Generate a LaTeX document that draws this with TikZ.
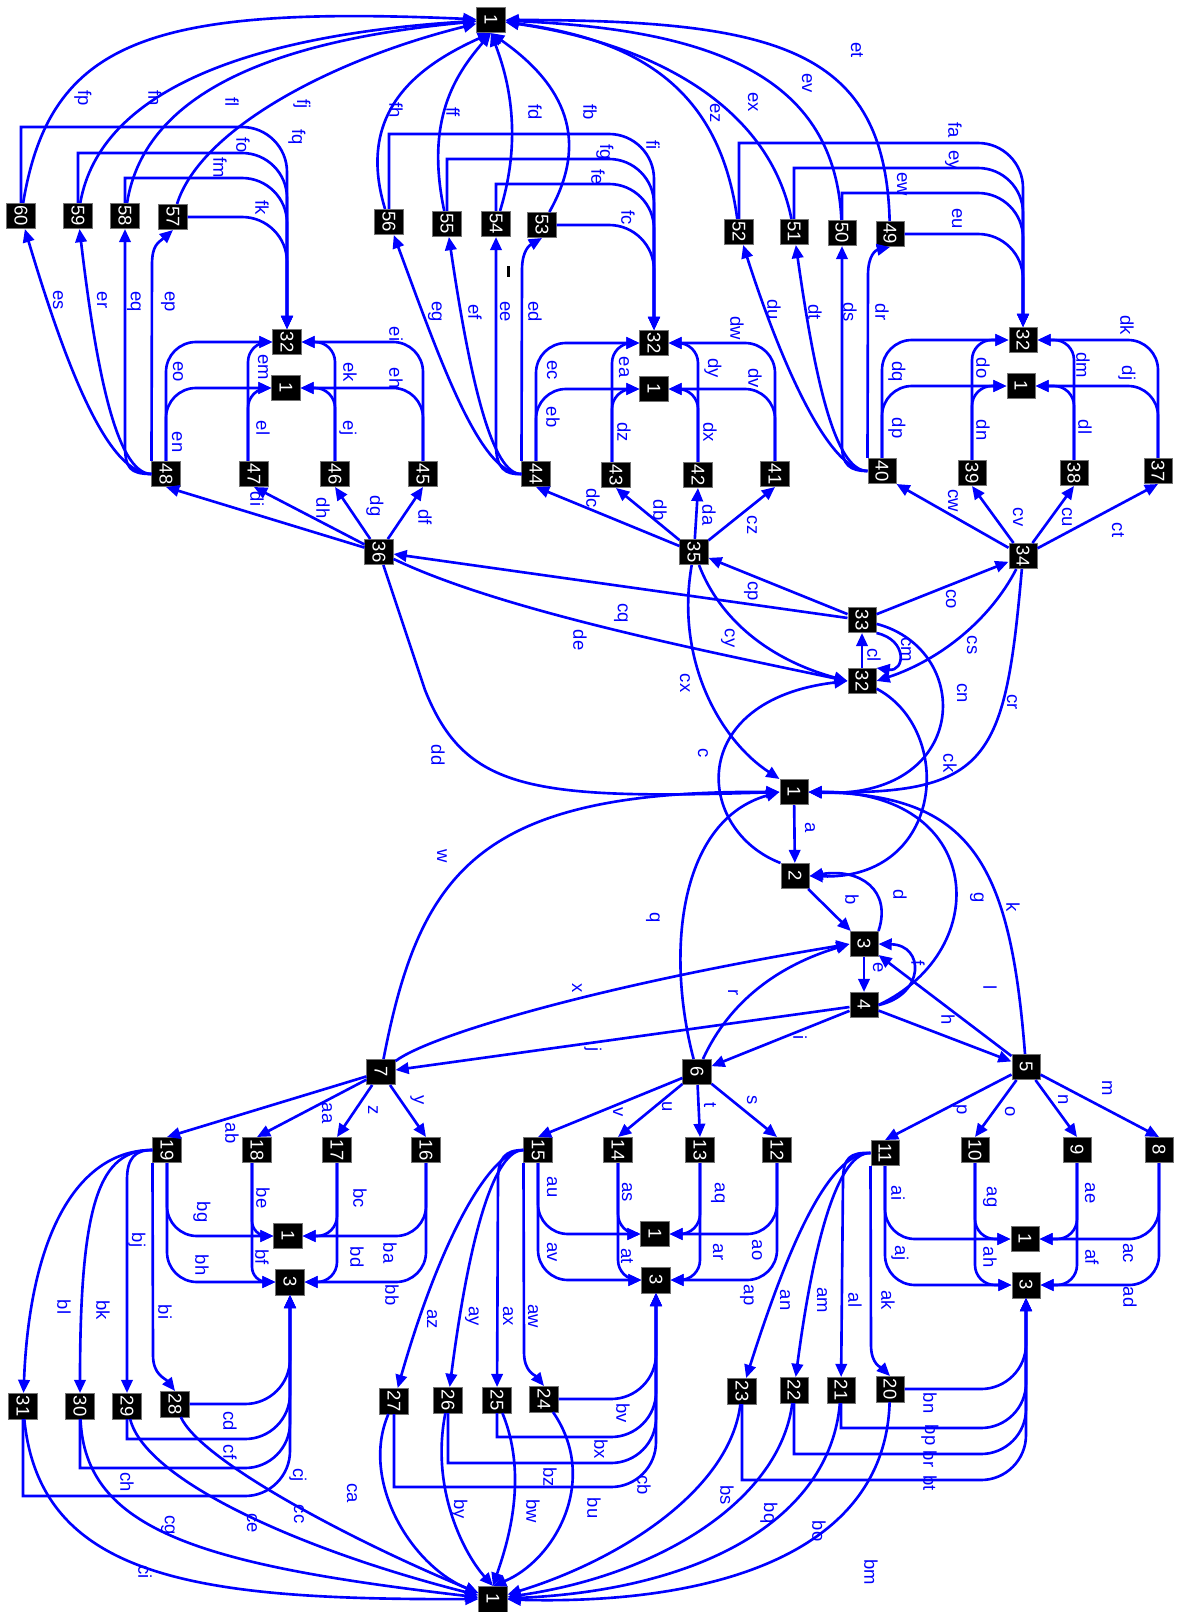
\documentclass[tikz,border=0pt]{standalone}
\usepackage{fontspec}
\setmainfont{Liberation Sans}
\usepackage{graphicx}
\usetikzlibrary{arrows.meta}
\newcommand{\vlab}[1]{\rotatebox{-90}{#1}}

\begin{document}
\begin{tikzpicture}[x=0.02cm, y=-0.02cm,
    vert/.style={fill=black, draw=black!55, line width=0.3pt, text=white, minimum width=0.57cm, minimum height=0.51cm, inner sep=0pt, font=\fontsize{10.5}{10.5}\selectfont},
    link/.style={draw=blue, line width=1.5pt, -{Triangle[length=7.5pt,width=6.5pt]}},
    lbl/.style={text=blue, rotate=-90, inner sep=0pt, font=\fontsize{10.5}{11}\selectfont},
    rca/.style={rounded corners=0.6cm},
    rcb/.style={rounded corners=0.4cm}]
  \fill[white] (0,0) rectangle (1189,1612);
  \useasboundingbox (0,0) rectangle (1189,1612);

  % vertices
  \node[vert] (t1) at (491,20) {\vlab{1}};
  \node[vert] (n60) at (21,216) {\vlab{60}};
  \node[vert] (n59) at (78,216) {\vlab{59}};
  \node[vert] (n58) at (125,216) {\vlab{58}};
  \node[vert] (n57) at (173,217) {\vlab{57}};
  \node[vert] (n56) at (389,222) {\vlab{56}};
  \node[vert] (n55) at (447,224) {\vlab{55}};
  \node[vert] (n54) at (496,224) {\vlab{54}};
  \node[vert] (n53) at (542,225) {\vlab{53}};
  \node[vert] (n52) at (739,232) {\vlab{52}};
  \node[vert] (n51) at (794,232) {\vlab{51}};
  \node[vert] (n50) at (842,233) {\vlab{50}};
  \node[vert] (n49) at (890,234) {\vlab{49}};
  \node[vert] (tl32) at (287,342) {\vlab{32}};
  \node[vert] (tl1) at (286,388) {\vlab{1}};
  \node[vert] (tm32) at (654,343) {\vlab{32}};
  \node[vert] (tm1) at (654,389) {\vlab{1}};
  \node[vert] (tr32) at (1023,340) {\vlab{32}};
  \node[vert] (tr1) at (1021,386) {\vlab{1}};
  \node[vert] (n48) at (166,474) {\vlab{48}};
  \node[vert] (n47) at (254,474) {\vlab{47}};
  \node[vert] (n46) at (335,474) {\vlab{46}};
  \node[vert] (n45) at (423,474) {\vlab{45}};
  \node[vert] (n44) at (536,474) {\vlab{44}};
  \node[vert] (n43) at (616,475) {\vlab{43}};
  \node[vert] (n42) at (698,475) {\vlab{42}};
  \node[vert] (n41) at (775,474) {\vlab{41}};
  \node[vert] (n40) at (882,471) {\vlab{40}};
  \node[vert] (n39) at (972,473) {\vlab{39}};
  \node[vert] (n38) at (1074,473) {\vlab{38}};
  \node[vert] (n37) at (1158,471) {\vlab{37}};
  \node[vert] (n36) at (379,552) {\vlab{36}};
  \node[vert] (n35) at (694,552) {\vlab{35}};
  \node[vert] (n34) at (1023,556) {\vlab{34}};
  \node[vert] (n33) at (862,620) {\vlab{33}};
  \node[vert] (c32) at (862,681) {\vlab{32}};
  \node[vert] (c1) at (794,792) {\vlab{1}};
  \node[vert] (n2) at (795,876) {\vlab{2}};
  \node[vert] (n3) at (864,944) {\vlab{3}};
  \node[vert] (n4) at (864,1005) {\vlab{4}};
  \node[vert] (n5) at (1026,1067) {\vlab{5}};
  \node[vert] (n6) at (697,1072) {\vlab{6}};
  \node[vert] (n7) at (381,1072) {\vlab{7}};
  \node[vert] (n8) at (1159,1150) {\vlab{8}};
  \node[vert] (n9) at (1077,1150) {\vlab{9}};
  \node[vert] (n10) at (975,1150) {\vlab{10}};
  \node[vert] (n11) at (885,1153) {\vlab{11}};
  \node[vert] (n12) at (777,1150) {\vlab{12}};
  \node[vert] (n13) at (700,1150) {\vlab{13}};
  \node[vert] (n14) at (618,1150) {\vlab{14}};
  \node[vert] (n15) at (538,1150) {\vlab{15}};
  \node[vert] (n16) at (426,1150) {\vlab{16}};
  \node[vert] (n17) at (337,1150) {\vlab{17}};
  \node[vert] (n18) at (257,1150) {\vlab{18}};
  \node[vert] (n19) at (167,1150) {\vlab{19}};
  \node[vert] (bl1) at (288,1236) {\vlab{1}};
  \node[vert] (bl3) at (290,1282) {\vlab{3}};
  \node[vert] (bm1) at (655,1234) {\vlab{1}};
  \node[vert] (bm3) at (656,1280) {\vlab{3}};
  \node[vert] (br1) at (1025,1239) {\vlab{1}};
  \node[vert] (br3) at (1026,1285) {\vlab{3}};
  \node[vert] (n20) at (890,1389) {\vlab{20}};
  \node[vert] (n21) at (841,1390) {\vlab{21}};
  \node[vert] (n22) at (794,1390) {\vlab{22}};
  \node[vert] (n23) at (742,1391) {\vlab{23}};
  \node[vert] (n24) at (544,1399) {\vlab{24}};
  \node[vert] (n25) at (497,1400) {\vlab{25}};
  \node[vert] (n26) at (448,1400) {\vlab{26}};
  \node[vert] (n27) at (394,1401) {\vlab{27}};
  \node[vert] (n28) at (175,1404) {\vlab{28}};
  \node[vert] (n29) at (127,1406) {\vlab{29}};
  \node[vert] (n30) at (80,1406) {\vlab{30}};
  \node[vert] (n31) at (23,1406) {\vlab{31}};
  \node[vert] (b1) at (493,1599) {\vlab{1}};
  \fill[black] (507,266) rectangle (510,277);

  % into the top 1
  \draw[link] (n60) .. controls (50,40) and (150,5) .. (t1) node[lbl] (lfp) at (83,98) {fp};
  \draw[link] (n59) .. controls (100,90) and (250,35) .. (t1) node[lbl] (lfn) at (155,98) {fn};
  \draw[link] (n58) .. controls (145,90) and (280,40) .. (t1) node[lbl] (lfl) at (232,102) {fl};
  \draw[link] (n57) .. controls (200,130) and (330,60) .. (t1) node[lbl] (lfj) at (302,104) {fj};
  \draw[link] (n56) .. controls (355,110) and (420,65) .. (t1.south) node[lbl] (lfh) at (396,110) {fh};
  \draw[link] (n55) .. controls (425,120) and (455,75) .. (t1.south) node[lbl] (lff) at (453,112) {ff};
  \draw[link] (n54) .. controls (525,130) and (505,70) .. (t1.south) node[lbl] (lfd) at (535,112) {fd};
  \draw[link] (n53) .. controls (590,140) and (565,85) .. (t1.south) node[lbl] (lfb) at (590,112) {fb};
  \draw[link] (n52) .. controls (720,90) and (640,40) .. (t1) node[lbl] (lez) at (715,113) {ez};
  \draw[link] (n51) .. controls (770,110) and (660,45) .. (t1) node[lbl] (lex) at (753,102) {ex};
  \draw[link] (n50) .. controls (835,80) and (720,30) .. (t1) node[lbl] (lev) at (807,83) {ev};
  \draw[link] (n49) .. controls (885,50) and (780,20) .. (t1) node[lbl] (let) at (857,50) {et};

  % to the upper 32 boxes
  \draw[link] (n60.north) |- (200,127) [rounded corners=0.9cm] -| (tl32) node[lbl] (lfq) at (297,137) {fq};
  \draw[link] (n59.north) |- (200,153) [rounded corners=0.9cm] -| (tl32) node[lbl] (lfo) at (243,145) {fo};
  \draw[link] (n58.north) |- (200,178) [rounded corners=0.9cm] -| (tl32) node[lbl] (lfm) at (220,168) {fm};
  \draw[link, rounded corners=0.9cm] (n57) -| (tl32) node[lbl] (lfk) at (262,208) {fk};
  \draw[link] (n56.north) |- (560,134) [rounded corners=0.9cm] -| (tm32) node[lbl] (lfi) at (653,145) {fi};
  \draw[link] (n55.north) |- (560,159) [rounded corners=0.9cm] -| (tm32) node[lbl] (lfg) at (605,152) {fg};
  \draw[link] (n54.north) |- (560,184) [rounded corners=0.9cm] -| (tm32) node[lbl] (lfe) at (598,177) {fe};
  \draw[link, rounded corners=0.9cm] (n53) -| (tm32) node[lbl] (lfc) at (628,218) {fc};
  \draw[link] (n52.north) |- (920,143) [rounded corners=0.9cm] -| (tr32) node[lbl] (lfa) at (955,130) {fa};
  \draw[link] (n51.north) |- (920,168) [rounded corners=0.9cm] -| (tr32) node[lbl] (ley) at (952,160) {ey};
  \draw[link] (n50.north) |- (920,193) [rounded corners=0.9cm] -| (tr32) node[lbl] (lew) at (902,184) {ew};
  \draw[link, rounded corners=0.9cm] (n49) -| (tr32) node[lbl] (leu) at (957,219) {eu};

  % fans out of 48, 44, 40
  \draw[link] (n48.north west) -- (152,265) .. controls (152,245) and (158,243) .. (n57.south) node[lbl] (lep) at (168,302) {ep};
  \draw[link] (n48.west) .. controls (130,474) and (125,468) .. (125,445) -- (n58) node[lbl] (leq) at (134,302) {eq};
  \draw[link] (n48.west) .. controls (115,474) and (95,360) .. (n59) node[lbl] (ler) at (102,300) {er};
  \draw[link] (n48.west) .. controls (110,474) and (70,380) .. (n60) node[lbl] (les) at (58,300) {es};
  \draw[link] (n44.north west) -- (522,270) .. controls (522,250) and (530,245) .. (n53.south) node[lbl] (led) at (535,312) {ed};
  \draw[link] (n44.west) .. controls (505,475) and (496,468) .. (496,445) -- (n54) node[lbl] (lee) at (505,312) {ee};
  \draw[link] (n44.west) .. controls (492,475) and (470,380) .. (n55) node[lbl] (lef) at (475,312) {ef};
  \draw[link] (n44.west) .. controls (480,475) and (440,360) .. (n56) node[lbl] (leg) at (435,312) {eg};
  \draw[link] (n40.north west) -- (868,275) .. controls (868,255) and (876,250) .. (n49.south) node[lbl] (ldr) at (882,312) {dr};
  \draw[link] (n40.west) .. controls (850,471) and (842,465) .. (842,445) -- (n50) node[lbl] (lds) at (850,312) {ds};
  \draw[link] (n40.west) .. controls (835,471) and (815,380) .. (n51) node[lbl] (ldt) at (815,312) {dt};
  \draw[link] (n40.west) .. controls (828,471) and (780,360) .. (n52) node[lbl] (ldu) at (774,310) {du};

  % upper groups into 1 and 32
  \draw[link, rca] (n48) |- (tl1) node[lbl] (len) at (177,442) {en};
  \draw[link, rca] (n48) |- (tl32) node[lbl] (leo) at (178,372) {eo};
  \draw[link, rcb] ([xshift=-0.12cm]n47.north) |- (tl1) node[lbl] (lel) at (263,428) {el};
  \draw[link, rcb] ([xshift=-0.12cm]n47.north) |- (tl32) node[lbl] (lem) at (263,367) {em};
  \draw[link, rcb] (n46) |- (tl1) node[lbl] (lej) at (348,428) {ej};
  \draw[link, rcb] (n46) |- (tl32) node[lbl] (lek) at (350,372) {ek};
  \draw[link, rca] (n45) |- (tl1) node[lbl] (leh) at (396,378) {eh};
  \draw[link, rca] (n45) |- (tl32) node[lbl] (lei) at (396,334) {ei};
  \draw[link, rca] (n44) |- (tm1) node[lbl] (leb) at (553,417) {eb};
  \draw[link, rca] (n44) |- (tm32) node[lbl] (lec) at (552,370) {ec};
  \draw[link, rcb] ([xshift=-0.08cm]n43.north) |- (tm1) node[lbl] (ldz) at (624,432) {dz};
  \draw[link, rcb] ([xshift=-0.08cm]n43.north) |- (tm32) node[lbl] (lea) at (624,367) {ea};
  \draw[link, rcb] (n42) |- (tm1) node[lbl] (ldx) at (710,432) {dx};
  \draw[link, rcb] (n42) |- (tm32) node[lbl] (ldy) at (713,368) {dy};
  \draw[link, rca] (n41) |- (tm1) node[lbl] (ldv) at (755,378) {dv};
  \draw[link, rca] (n41) |- (tm32) node[lbl] (ldw) at (737,328) {dw};
  \draw[link, rca] (n40) |- (tr1) node[lbl] (ldp) at (897,428) {dp};
  \draw[link, rca] (n40) |- (tr32) node[lbl] (ldq) at (897,372) {dq};
  \draw[link, rcb] (n39) |- (tr1) node[lbl] (ldn) at (983,430) {dn};
  \draw[link, rcb] (n39) |- (tr32) node[lbl] (ldo) at (983,368) {do};
  \draw[link, rcb] (n38) |- (tr1) node[lbl] (ldl) at (1085,427) {dl};
  \draw[link, rcb] (n38) |- (tr32) node[lbl] (ldm) at (1083,365) {dm};
  \draw[link, rca] (n37) |- (tr1) node[lbl] (ldj) at (1127,373) {dj};
  \draw[link, rca] (n37) |- (tr32) node[lbl] (ldk) at (1127,325) {dk};

  % hubs 36, 35, 34
  \draw[link] (n36) -- (n45.south) node[lbl] (ldf) at (425,517) {df};
  \draw[link] (n36) -- (n46.south) node[lbl] (ldg) at (375,506) {dg};
  \draw[link] (n36) -- (n47.south) node[lbl] (ldh) at (323,508) {dh};
  \draw[link] (n36) -- (n48.south) node[lbl] (ldi) at (257,499) {di};
  \draw[link] (n35) -- (n41.south) node[lbl] (lcz) at (752,525) {cz};
  \draw[link] (n35) -- (n42.south) node[lbl] (lda) at (709,515) {da};
  \draw[link] (n35) -- (n43.south) node[lbl] (ldb) at (660,510) {db};
  \draw[link] (n35) -- (n44.south) node[lbl] (ldc) at (593,498) {dc};
  \draw[link] (n34) -- (n37.south) node[lbl] (lct) at (1118,530) {ct};
  \draw[link] (n34) -- (n38.south) node[lbl] (lcu) at (1067,517) {cu};
  \draw[link] (n34) -- (n39.south) node[lbl] (lcv) at (1018,517) {cv};
  \draw[link] (n34) -- (n40.south east) node[lbl] (lcw) at (953,501) {cw};

  % centre
  \draw[link] (n33) -- (n34) node[lbl] (lco) at (951,599) {co};
  \draw[link] (n33) -- (n35) node[lbl] (lcp) at (751,591) {cp};
  \draw[link] (n33) -- (n36) node[lbl] (lcq) at (621,613) {cq};
  \draw[link] (c32) -- (n33) node[lbl] (lcl) at (874,655) {cl};
  \draw[link] (n33.south east) .. controls (908,640) and (905,672) .. (c32.north east) node[lbl] (lcm) at (906,650) {cm};
  \draw[link] (n34) .. controls (990,620) and (940,660) .. (c32.east) node[lbl] (lcs) at (972,645) {cs};
  \draw[link] (n36) .. controls (500,610) and (700,650) .. (c32.west) node[lbl] (lde) at (580,640) {de};
  \draw[link] (n35) .. controls (720,620) and (770,660) .. (c32.west) node[lbl] (lcy) at (728,638) {cy};
  \draw[link] (n35) .. controls (675,660) and (720,740) .. (c1.north west) node[lbl] (lcx) at (685,683) {cx};
  \draw[link] (n2.north west) .. controls (695,830) and (685,700) .. (c32.west) node[lbl] (lc) at (703,753) {c};
  \draw[link] (c32) .. controls (955,730) and (945,880) .. (n2.east) node[lbl] (lck) at (950,763) {ck};
  \draw[link] (n33) .. controls (975,650) and (970,800) .. (c1.east) node[lbl] (lcn) at (962,693) {cn};
  \draw[link] (n34) .. controls (1005,760) and (990,795) .. (c1.east) node[lbl] (lcr) at (1012,702) {cr};
  \draw[link] (n36) -- (425,690) .. controls (465,790) and (530,800) .. (c1.west) node[lbl] (ldd) at (438,755) {dd};
  \draw[link] (n7) .. controls (420,870) and (480,790) .. (c1.west) node[lbl] (lw) at (442,856) {w};
  \draw[link] (n6) .. controls (665,950) and (680,820) .. (c1.west) node[lbl] (lq) at (653,918) {q};
  \draw[link] (c1) -- (n2) node[lbl] (la) at (810,828) {a};
  \draw[link] (n2) -- (n3) node[lbl] (lb) at (852,900) {b};
  \draw[link] (n3.north east) .. controls (892,890) and (860,868) .. (n2.east) node[lbl] (ld) at (900,895) {d};
  \draw[link] (n3) -- (n4) node[lbl] (le) at (878,968) {e};
  \draw[link] (n4.east) .. controls (925,995) and (925,945) .. (n3.east) node[lbl] (lf) at (918,963) {f};
  \draw[link] (n4.east) .. controls (995,950) and (985,790) .. (c1.east) node[lbl] (lg) at (977,898) {g};
  \draw[link] (n5) .. controls (1010,860) and (970,795) .. (c1.east) node[lbl] (lk) at (1013,907) {k};
  \draw[link] (n4) -- (n5) node[lbl] (lh) at (948,1020) {h};
  \draw[link] (n4) -- (n6) node[lbl] (li) at (800,1038) {i};
  \draw[link] (n4) -- (n7) node[lbl] (lj) at (593,1050) {j};
  \draw[link] (n5) -- (n3) node[lbl] (ll) at (990,988) {l};
  \draw[link] (n7) .. controls (430,1035) and (600,985) .. (n3.west) node[lbl] (lx) at (577,988) {x};
  \draw[link] (n6) .. controls (730,1000) and (780,965) .. (n3.west) node[lbl] (lr) at (733,993) {r};

  % hubs 7, 6, 5
  \draw[link] (n5) -- (n8.north) node[lbl] (lm) at (1107,1088) {m};
  \draw[link] (n5) -- (n9.north) node[lbl] (ln) at (1063,1100) {n};
  \draw[link] (n5) -- (n10.north) node[lbl] (lo) at (1010,1112) {o};
  \draw[link] (n5) -- (n11.north) node[lbl] (lp) at (960,1110) {p};
  \draw[link] (n6) -- (n12.north) node[lbl] (ls) at (752,1100) {s};
  \draw[link] (n6) -- (n13.north) node[lbl] (lt) at (710,1105) {t};
  \draw[link] (n6) -- (n14.north) node[lbl] (lu) at (667,1107) {u};
  \draw[link] (n6) -- (n15.north) node[lbl] (lv) at (618,1112) {v};
  \draw[link] (n7) -- (n16.north) node[lbl] (ly) at (417,1100) {y};
  \draw[link] (n7) -- (n17.north) node[lbl] (lz) at (373,1110) {z};
  \draw[link] (n7) -- (n18.north) node[lbl] (laa) at (327,1113) {aa};
  \draw[link] (n7) -- (n19.north) node[lbl] (lab) at (232,1133) {ab};

  % lower groups into 1 and 3
  \draw[link, rca] (n19) |- (bl1) node[lbl] (lbg) at (202,1212) {bg};
  \draw[link, rca] (n19) |- (bl3) node[lbl] (lbh) at (202,1265) {bh};
  \draw[link, rounded corners=0.3cm] ([xshift=-0.1cm]n18.south) |- (bl1) node[lbl] (lbe) at (263,1198) {be};
  \draw[link, rounded corners=0.3cm] ([xshift=-0.1cm]n18.south) |- (bl3) node[lbl] (lbf) at (262,1257) {bf};
  \draw[link, rcb] (n17) |- (bl1) node[lbl] (lbc) at (360,1198) {bc};
  \draw[link, rcb] (n17) |- (bl3) node[lbl] (lbd) at (357,1257) {bd};
  \draw[link, rca] (n16) |- (bl1) node[lbl] (lba) at (390,1253) {ba};
  \draw[link, rca] (n16) |- (bl3) node[lbl] (lbb) at (392,1295) {bb};
  \draw[link, rca] (n15) |- (bm1) node[lbl] (lau) at (552,1187) {au};
  \draw[link, rca] (n15) |- (bm3) node[lbl] (lav) at (552,1252) {av};
  \draw[link, rcb] (n14) |- (bm1) node[lbl] (las) at (627,1192) {as};
  \draw[link, rcb] (n14) |- (bm3) node[lbl] (lat) at (627,1256) {at};
  \draw[link, rcb] (n13) |- (bm1) node[lbl] (laq) at (718,1193) {aq};
  \draw[link, rcb] (n13) |- (bm3) node[lbl] (lar) at (718,1252) {ar};
  \draw[link, rca] (n12) |- (bm1) node[lbl] (lao) at (757,1250) {ao};
  \draw[link, rca] (n12) |- (bm3) node[lbl] (lap) at (747,1295) {ap};
  \draw[link, rca] (n11) |- (br1) node[lbl] (lai) at (898,1193) {ai};
  \draw[link, rca] (n11) |- (br3) node[lbl] (laj) at (900,1253) {aj};
  \draw[link, rcb] (n10) |- (br1) node[lbl] (lag) at (990,1197) {ag};
  \draw[link, rcb] (n10) |- (br3) node[lbl] (lah) at (990,1257) {ah};
  \draw[link, rcb] (n9) |- (br1) node[lbl] (lae) at (1090,1193) {ae};
  \draw[link, rcb] (n9) |- (br3) node[lbl] (laf) at (1092,1257) {af};
  \draw[link, rca] (n8) |- (br1) node[lbl] (lac) at (1128,1253) {ac};
  \draw[link, rca] (n8) |- (br3) node[lbl] (lad) at (1130,1297) {ad};

  % fans out of 19, 15, 11
  \draw[link] (n19.south west) -- (153,1355) .. controls (153,1375) and (165,1378) .. (n28.north) node[lbl] (lbi) at (165,1312) {bi};
  \draw[link] (n19.west) .. controls (135,1150) and (127,1158) .. (127,1180) -- (n29) node[lbl] (lbj) at (137,1240) {bj};
  \draw[link] (n19.west) .. controls (100,1150) and (80,1200) .. (n30) node[lbl] (lbk) at (103,1310) {bk};
  \draw[link] (n19.west) .. controls (80,1150) and (30,1230) .. (n31) node[lbl] (lbl) at (64,1307) {bl};
  \draw[link] (n15.south west) -- (524,1352) .. controls (524,1372) and (535,1375) .. (n24.north) node[lbl] (law) at (533,1316) {aw};
  \draw[link] (n15.west) .. controls (505,1150) and (498,1158) .. (498,1180) -- (n25) node[lbl] (lax) at (508,1316) {ax};
  \draw[link] (n15.west) .. controls (495,1150) and (470,1230) .. (n26) node[lbl] (lay) at (472,1316) {ay};
  \draw[link] (n15.west) .. controls (490,1150) and (440,1240) .. (n27) node[lbl] (laz) at (432,1319) {az};
  \draw[link] (n11.south west) -- (871,1345) .. controls (871,1365) and (882,1368) .. (n20.north) node[lbl] (lak) at (888,1300) {ak};
  \draw[link] (n11.west) .. controls (850,1152) and (843,1158) .. (843,1180) -- (n21) node[lbl] (lal) at (855,1300) {al};
  \draw[link] (n11.west) .. controls (840,1152) and (815,1230) .. (n22) node[lbl] (lam) at (822,1300) {am};
  \draw[link] (n11.west) .. controls (830,1152) and (790,1240) .. (n23) node[lbl] (lan) at (785,1300) {an};

  % bottom row into the 3 boxes
  \draw[link, rounded corners=0.9cm] (n28) -| (bl3) node[lbl] (lcd) at (230,1421) {cd};
  \draw[link] (n29.south) |- (200,1439) [rounded corners=0.9cm] -| (bl3) node[lbl] (lcf) at (230,1452) {cf};
  \draw[link] (n30.south) |- (200,1468) [rounded corners=0.9cm] -| (bl3) node[lbl] (lch) at (127,1482) {ch};
  \draw[link] (n31.south) |- (200,1496) [rounded corners=0.9cm] -| (bl3) node[lbl] (lcj) at (298,1475) {cj};
  \draw[link, rounded corners=0.9cm] (n24) -| (bm3) node[lbl] (lbv) at (623,1413) {bv};
  \draw[link] (n25.south) |- (600,1437) [rounded corners=0.9cm] -| (bm3) node[lbl] (lbx) at (601,1449) {bx};
  \draw[link] (n26.south) |- (600,1463) [rounded corners=0.9cm] -| (bm3) node[lbl] (lbz) at (550,1477) {bz};
  \draw[link] (n27.south) |- (600,1487) [rounded corners=0.9cm] -| (bm3) node[lbl] (lcb) at (644,1485) {cb};
  \draw[link, rounded corners=0.9cm] (n20) -| (br3) node[lbl] (lbn) at (930,1403) {bn};
  \draw[link] (n21.south) |- (960,1428) [rounded corners=0.9cm] -| (br3) node[lbl] (lbp) at (930,1435) {bp};
  \draw[link] (n22.south) |- (960,1454) [rounded corners=0.9cm] -| (br3) node[lbl] (lbr) at (930,1459) {br};
  \draw[link] (n23.south) |- (960,1480) [rounded corners=0.9cm] -| (br3) node[lbl] (lbt) at (930,1483) {bt};

  % into the bottom 1
  \draw[link] (n31) .. controls (40,1580) and (200,1600) .. (b1) node[lbl] (lci) at (145,1572) {ci};
  \draw[link] (n30) .. controls (85,1530) and (200,1565) .. (b1) node[lbl] (lcg) at (168,1525) {cg};
  \draw[link] (n29) .. controls (145,1480) and (300,1550) .. (b1) node[lbl] (lce) at (252,1523) {ce};
  \draw[link] (n28) .. controls (200,1460) and (350,1540) .. (b1) node[lbl] (lcc) at (299,1514) {cc};
  \draw[link] (n27) .. controls (360,1480) and (410,1565) .. (b1) node[lbl] (lca) at (352,1493) {ca};
  \draw[link] (n26) .. controls (430,1490) and (465,1555) .. (b1.north) node[lbl] (lby) at (459,1509) {by};
  \draw[link] (n25) .. controls (530,1480) and (505,1550) .. (b1.north) node[lbl] (lbw) at (533,1511) {bw};
  \draw[link] (n24) .. controls (600,1480) and (555,1560) .. (b1.north) node[lbl] (lbu) at (594,1508) {bu};
  \draw[link] (n23) .. controls (730,1490) and (620,1560) .. (b1) node[lbl] (lbs) at (727,1495) {bs};
  \draw[link] (n22) .. controls (780,1500) and (660,1575) .. (b1) node[lbl] (lbq) at (769,1513) {bq};
  \draw[link] (n21) .. controls (830,1520) and (700,1590) .. (b1) node[lbl] (lbo) at (819,1531) {bo};
  \draw[link] (n20) .. controls (885,1560) and (700,1605) .. (b1) node[lbl] (lbm) at (871,1572) {bm};
\end{tikzpicture}
\end{document}
